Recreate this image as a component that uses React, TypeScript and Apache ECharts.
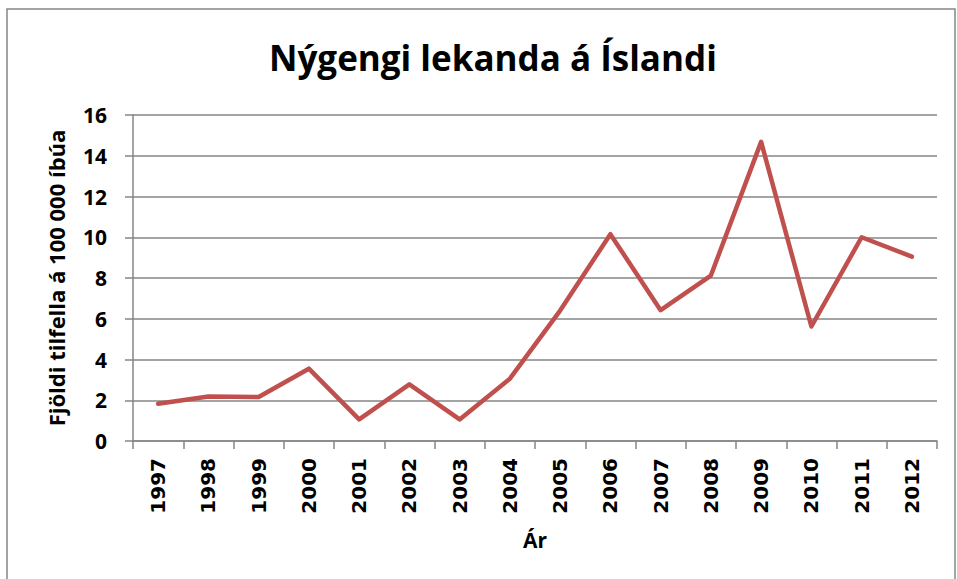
import React, { useEffect, useRef } from "react";
import * as echarts from "echarts";

const years = ["1997","1998","1999","2000","2001","2002","2003","2004","2005","2006","2007","2008","2009","2010","2011","2012"];
const incidence = [1.83, 2.18, 2.16, 3.55, 1.06, 2.78, 1.06, 3.06, 6.4, 10.15, 6.42, 8.12, 14.68, 5.62, 10.0, 9.05];
const titleText = "Nýgengi lekanda á Íslandi";
const yAxisName = "Fjöldi tilfella á 100 000 íbúa";
const xAxisName = "Ár";

export default function App() {
  const ref = useRef<HTMLDivElement>(null);
  useEffect(() => {
    document.body.style.margin = "0";
    const chart = echarts.init(ref.current!, null, { renderer: "svg" });
    const gray = "#868686";
    chart.setOption({
      animation: false,
      backgroundColor: "#ffffff",
      title: {
        text: titleText,
        left: 264,
        top: 35,
        textStyle: { fontFamily: "Open Sans", fontWeight: "bold", fontSize: 35, color: "#000" },
      },
      graphic: [
        {
          type: "rect",
          shape: { x: 7, y: 9, width: 948, height: 600 },
          style: { fill: "none", stroke: gray, lineWidth: 1.5 },
          silent: true,
        },
      ],
      grid: { left: 133, right: 20, top: 115, bottom: 138 },
      xAxis: {
        type: "category",
        data: years,
        boundaryGap: true,
        name: xAxisName,
        nameLocation: "middle",
        nameGap: 88,
        nameTextStyle: { fontFamily: "Open Sans", fontWeight: "bold", fontSize: 21, color: "#000" },
        axisLine: { lineStyle: { color: gray, width: 1.5 } },
        axisTick: { show: true, interval: 0, length: 8, lineStyle: { color: gray, width: 1.5 } },
        axisLabel: {
          interval: 0,
          rotate: 90,
          margin: 17,
          fontFamily: "DejaVu Sans",
          fontWeight: "bold",
          fontSize: 20,
          color: "#000",
        },
      },
      yAxis: {
        type: "value",
        min: 0,
        max: 16,
        interval: 2,
        name: yAxisName,
        nameLocation: "middle",
        nameGap: 66,
        nameRotate: 90,
        nameTextStyle: { fontFamily: "Open Sans", fontWeight: "bold", fontSize: 22, color: "#000" },
        axisLine: { show: true, lineStyle: { color: gray, width: 1.5 } },
        axisTick: { show: true, length: 8, lineStyle: { color: gray, width: 1.5 } },
        splitLine: { show: true, lineStyle: { color: gray, width: 1.5 } },
        axisLabel: {
          margin: 26,
          fontFamily: "Open Sans",
          fontWeight: "bold",
          fontSize: 21,
          color: "#000",
        },
      },
      series: [
        {
          type: "line",
          data: incidence,
          symbol: "none",
          lineStyle: { color: "#C0504D", width: 4.5, join: "round", cap: "round" },
          itemStyle: { color: "#C0504D" },
        },
      ],
    });
    return () => chart.dispose();
  }, []);
  return <div ref={ref} style={{ width: 957, height: 579 }} />;
}
